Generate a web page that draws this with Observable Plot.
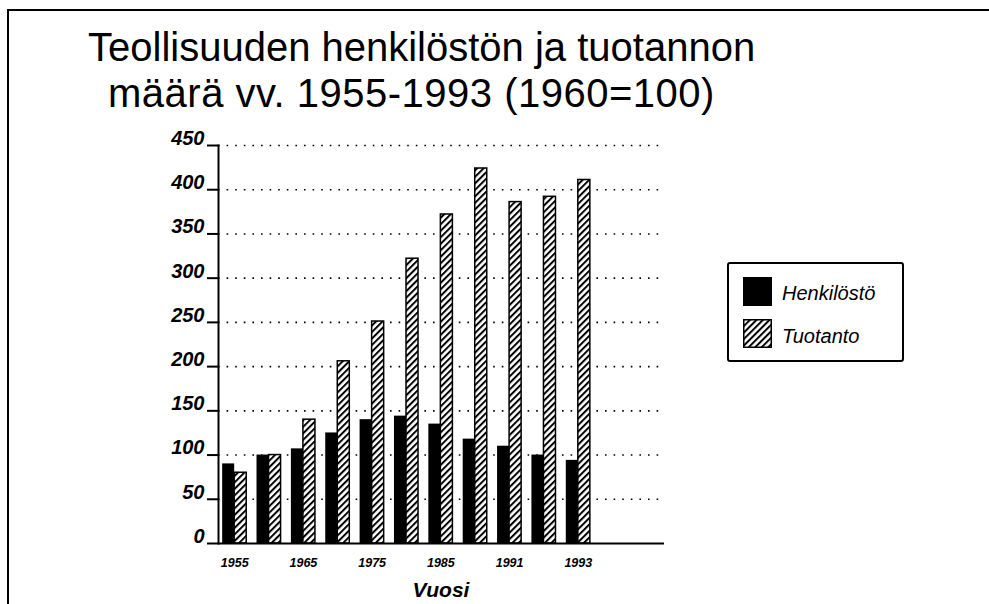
<!DOCTYPE html>
<html>
<head>
<meta charset="utf-8">
<script src="https://cdn.jsdelivr.net/npm/d3@7"></script>
<script src="https://cdn.jsdelivr.net/npm/@observablehq/plot@0.6"></script>
<style>
  body { margin: 0; background: #fff; font-family: "Liberation Sans", Arial, sans-serif; color: #000; }
  #wrap { position: relative; width: 989px; height: 604px; overflow: hidden; background: #fff; }
  #chart { position: absolute; left: 0; top: 0; }
  .frame { position: absolute; left: 7px; top: 9px; width: 1000px; height: 620px; border-top: 2px solid #000; border-left: 2px solid #000; }
  .t { position: absolute; font-size: 40px; line-height: 1; white-space: nowrap; }
  .xlab { position: absolute; left: 341px; width: 200px; text-align: center; top: 579px; font-size: 21px; line-height: 1; font-weight: bold; font-style: italic; }
  .legend { position: absolute; left: 727px; top: 262px; width: 177px; height: 100px; box-sizing: border-box; border: 2px solid #000; border-radius: 3px; background: #fff; }
  .legend .sw { position: absolute; left: 14px; width: 29px; height: 29px; }
  .legend .lt { position: absolute; left: 53px; font-size: 20px; line-height: 1; font-style: italic; white-space: nowrap; }
</style>
</head>
<body>
<div id="wrap">
  <div id="chart"></div>
  <div class="frame"></div>
  <div class="t" id="title1" style="left:88px; top:27px;"></div>
  <div class="t" id="title2" style="left:108px; top:73px; letter-spacing:0.5px;"></div>
  <div class="xlab" id="xlab"></div>
  <div class="legend">
    <svg class="sw" style="top:13px" width="29" height="29"><rect x="0" y="0" width="29" height="29" fill="#000"/></svg>
    <div class="lt" id="leg1" style="top:19px;"></div>
    <svg class="sw" style="top:55px" width="29" height="29">
      <defs>
        <pattern id="hatch2" patternUnits="userSpaceOnUse" width="4.6" height="10" patternTransform="rotate(45)">
          <rect width="4.6" height="10" fill="#fff"/>
          <rect width="2" height="10" fill="#000"/>
        </pattern>
      </defs>
      <rect x="0.75" y="0.75" width="27.5" height="27.5" fill="url(#hatch2)" stroke="#000" stroke-width="1.5"/>
    </svg>
    <div class="lt" id="leg2" style="top:62px;"></div>
  </div>
</div>
<script>
// ---- data ----
const years = ["1955","1960","1965","1970","1975","1980","1985","1990","1991","1992","1993"];
const henkilosto = [90, 100, 107, 125, 140, 144, 135, 118, 110, 100, 94];
const tuotanto   = [80, 100, 140, 206, 251, 322, 372, 424, 386, 392, 411];
const yTicks = [0, 50, 100, 150, 200, 250, 300, 350, 400, 450];
const gridValues = [50, 100, 150, 200, 250, 300, 350, 400, 450];
const xTickLabels = ["1955", "1965", "1975", "1985", "1991", "1993"];
const seriesNames = ["Henkilöstö", "Tuotanto"];
const titleLines = ["Teollisuuden henkilöstön ja tuotannon", "määrä vv. 1955-1993 (1960=100)"];
const xAxisLabel = "Vuosi";

document.getElementById("title1").textContent = titleLines[0];
document.getElementById("title2").textContent = titleLines[1];
document.getElementById("xlab").textContent = xAxisLabel;
document.getElementById("leg1").textContent = seriesNames[0];
document.getElementById("leg2").textContent = seriesNames[1];

const data = years.map((y, i) => ({year: y, h: henkilosto[i], t: tuotanto[i]}));

const xRange = [217, 595];
const padIn = 0.3, padOut = 0.15;
const bw = d3.scaleBand().domain(years).range(xRange).paddingInner(padIn).paddingOuter(padOut).bandwidth();

const defs = () => {
  const d = d3.create("svg:defs");
  const p = d.append("pattern").attr("id", "hatch").attr("patternUnits", "userSpaceOnUse")
    .attr("width", 4.6).attr("height", 10).attr("patternTransform", "rotate(45)");
  p.append("rect").attr("width", 4.6).attr("height", 10).attr("fill", "#fff");
  p.append("rect").attr("width", 2).attr("height", 10).attr("fill", "#000");
  return d.node();
};

const chart = Plot.plot({
  width: 989,
  height: 604,
  marginLeft: 218,
  marginRight: 325,
  marginTop: 145,
  marginBottom: 61,
  style: {background: "transparent", fontFamily: "Liberation Sans, Arial, sans-serif", color: "#000"},
  x: {type: "band", domain: years, range: xRange, paddingInner: padIn, paddingOuter: padOut, round: false},
  y: {domain: [0, 450]},
  marks: [
    defs,
    Plot.ruleY(gridValues, {stroke: "#000", strokeWidth: 1.6, strokeDasharray: "1.6 7"}),
    Plot.barY(data, {x: "year", y: "h", fill: "#000", insetRight: bw / 2}),
    Plot.barY(data, {x: "year", y: "t", fill: "url(#hatch)", stroke: "#000", strokeWidth: 1.5, insetLeft: bw / 2}),
    Plot.ruleY([0], {stroke: "#000", strokeWidth: 2}),
    Plot.frame({anchor: "left", stroke: "#000", strokeWidth: 2}),
    Plot.axisY({ticks: yTicks, tickSize: 11, fill: "none", stroke: "#000", strokeWidth: 2, label: null}),
    Plot.axisY({ticks: yTicks, tickSize: 0, tickPadding: 14, dy: -7, fontSize: 20, fontWeight: "bold", fontStyle: "italic", label: null}),
    Plot.axisX({ticks: xTickLabels, tickSize: 0, tickPadding: 15, fontSize: 12.5, fontWeight: "bold", fontStyle: "italic", label: null})
  ]
});
document.getElementById("chart").appendChild(chart);
</script>
</body>
</html>
